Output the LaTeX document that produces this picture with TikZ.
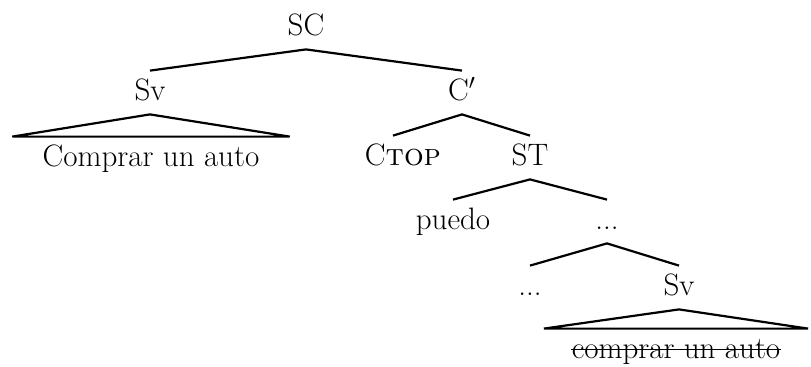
\documentclass[tikz,border=0pt]{standalone}

\begin{document}
\begin{tikzpicture}[
  x=0.5pt, y=-0.5pt,
  font=\fontsize{15.5}{18}\selectfont,
  lab/.style={anchor=base, inner xsep=0pt, inner ysep=7pt, text height=7.5pt, text depth=0pt},
  leaf/.style={lab, inner xsep=15pt},
  edge/.style={line width=1.1pt},
  strike/.style={line width=0.7pt}
]
\useasboundingbox (0,0) rectangle (811,366);

\node[lab] (sc) at (306,35) {SC};
\node[lab] (sv) at (150,100) {Sv};
\node[lab] (cbar) at (462,100) {C$'$};
\node[leaf] (vp1) at (151,166) {Comprar un auto};
\node[lab] (ctop) at (403,165) {C\textsc{top}};
\node[lab] (st) at (530,165) {ST};
\node[lab] (puedo) at (453,229) {puedo};
\node[lab] (dots) at (607,229) {...};
\node[lab] (dotsb) at (530,295) {...};
\node[lab] (svb) at (679,295) {Sv};
\node[leaf, inner xsep=13.75pt] (vp2) at (676,358) {comprar un auto};

\draw[edge] (sv.north) -- (sc.south) -- (cbar.north);
\draw[edge] (sv.south) -- (vp1.north west) -- (vp1.north east) -- cycle;
\draw[edge] ([xshift=-5pt]ctop.north) -- (cbar.south) -- (st.north);
\draw[edge] (puedo.north) -- (st.south) -- (dots.north);
\draw[edge] (dotsb.north) -- (dots.south) -- (svb.north);
\draw[edge] (svb.south) -- (vp2.north west) -- (vp2.north east) -- cycle;
% tachado
\draw[strike] ([shift={(13.75pt,4.2pt)}]vp2.base west) -- ([shift={(-13.75pt,4.2pt)}]vp2.base east);
\end{tikzpicture}
\end{document}
